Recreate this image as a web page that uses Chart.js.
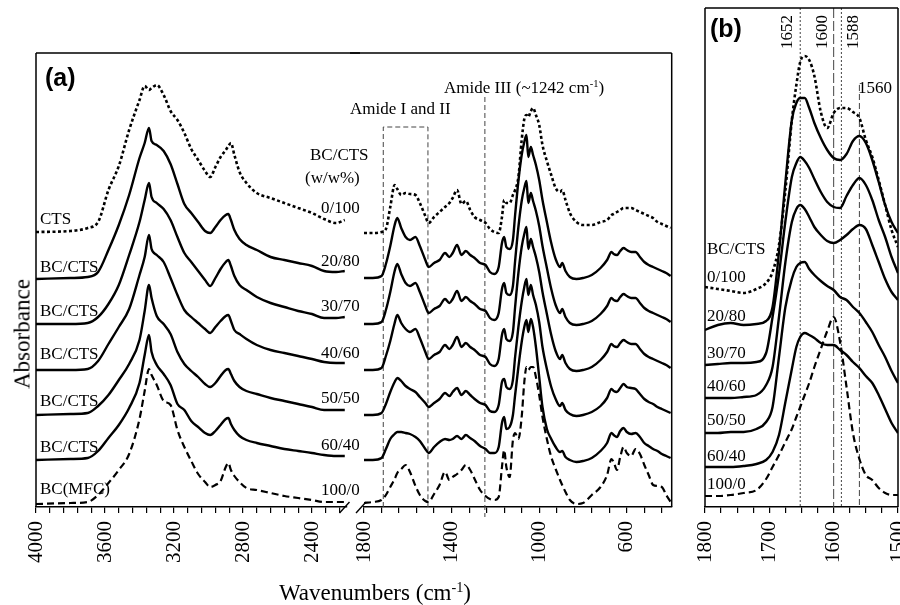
<!DOCTYPE html>
<html>
<head>
<meta charset="utf-8">
<script src="https://cdn.jsdelivr.net/npm/chart.js@4.4.0/dist/chart.umd.min.js"></script>
<style>
body { margin: 0; background: #fff; }
#wrap { position: relative; width: 900px; height: 605px; overflow: hidden; background: #fff;
        font-family: "Liberation Serif", "Times New Roman", serif; color: #000; }
#wrap canvas { position: absolute; top: 0; }
.lbl { position: absolute; white-space: nowrap; font-size: 17px; line-height: 1; }
sup { font-size: 0.62em; vertical-align: 0.55em; line-height: 0; }
</style>
</head>
<body>
<div id="wrap">
  <canvas id="cLeft"></canvas>
  <canvas id="cRight"></canvas>
  <canvas id="cB"></canvas>
</div>
<script>
// ---- panel (a), high wavenumber part (cm-1) ----
var leftWn = [4000, 3800, 3700, 3640, 3580, 3520, 3460, 3400, 3370, 3345, 3330, 3300, 3260, 3220, 3180, 3140, 3100, 3060,
              3020, 2990, 2960, 2930, 2900, 2885, 2870, 2850, 2820, 2780, 2720, 2640, 2560, 2480, 2400, 2330, 2260, 2210];
var ctsL   = [275,276,279,285,317,341,377,407,421,417,419,422,412,396,387,374,358,347,336,330,340,350,357,361,364,352,335,324,314,309,304,299,294,288,284,287];
var r2080L = [228,229,230,235,257,282,312,349,364,379,366,362,356,343,323,303,294,285,276,274,280,287,292,293,287,277,268,262,257,250,247,244,241,236,235,236];
var r3070L = [183,183,184,190,203,222,252,285,307,324,310,304,298,287,270,254,245,236,227,221,229,238,245,247,241,231,222,217,210,204,200,196,193,189,189,190];
var r4060L = [137,137,138,146,163,180,198,232,250,272,258,252,245,229,212,197,190,184,178,174,180,186,191,192,186,177,173,168,162,157,154,151,148,145,144,144];
var r5050L = [92,93,94,101,112,127,143,167,196,222,209,191,183,173,155,143,136,130,123,120,124,131,137,138,133,126,120,116,113,109,106,103,100,97,97,97];
var r6040L = [47,48,49,56,69,82,99,124,152,172,155,142,133,122,103,97,86,80,74,72,76,82,88,89,83,77,71,67,64,61,58,56,54,52,51,51];
var mfcL   = [3,4,5,12,24,37,53,88,116,138,132,122,106,102,77,60,46,33,25,20,22,26,40,44,37,31,25,19,17,14,11,9,7,5,5,5];

// ---- panel (a), fingerprint part (cm-1) ----
var rightWn = [1800,1760,1720,1700,1680,1660,1648,1630,1610,1590,1565,1545,1520,1505,1480,1455,1430,1410,1395,1375,
               1355,1335,1315,1295,1270,1245,1225,1205,1185,1170,1160,1150,1135,1120,1110,1095,1080,1068,1058,1050,
               1038,1028,1015,1000,985,965,945,925,905,895,880,860,830,800,760,720,690,670,660,645,
               630,615,600,580,560,540,520,500,480,460,440,420,400];
var ctsR = [274,274,275,278,300, 322,318,312,314,313, 312,304,291,284,290, 295,300,304,309,317,
            303,306,297,290,287, 284,278,275,274,290, 307,304,304,312,317, 330,367,388,392,390,
            396,399,392,382,362, 346,332,319,315,317, 307,294,285,282,282, 285,287,292,293,295,
            297,299,299,299,297, 295,293,291,289,285, 283,281,279];
var r2080R = [229,229,231,243,261, 282,289,279,270,267, 270,261,247,240,244, 247,254,250,254,262,
              252,256,252,249,244, 242,235,233,240,264, 270,260,258,267,292, 326,352,365,372,350,
              360,352,342,327,307, 285,264,248,240,244, 236,230,228,229,232, 239,247,255,253,252,
              256,259,257,255,255, 250,245,242,240,238, 236,234,231];
var r3070R = [183,183,185,197,215, 236,243,233,224,221, 224,215,201,194,198, 201,208,204,208,216,
              206,210,206,203,198, 196,189,187,194,218, 224,214,212,221,246, 280,306,319,326,304,
              314,306,296,281,261, 239,218,202,194,198, 190,184,182,183,186, 193,201,209,207,206,
              210,213,211,209,209, 204,199,196,194,192, 190,188,185];
var r4060R = [137,137,139,151,166, 184,192,184,178,175, 178,169,155,148,152, 155,162,158,162,170,
              160,164,160,157,152, 150,143,141,148,172, 178,168,166,175,200, 234,260,273,280,258,
              268,260,250,235,215, 193,172,156,148,152, 144,138,136,137,140, 147,155,163,161,160,
              164,167,165,163,163, 158,153,150,148,146, 144,142,139];
var r5050R = [92,92,94,103,115, 125,129,126,121,118, 115,110,104,100,104, 108,114,111,115,119,
              112,116,112,108,104, 102,96,95,102,125, 128,120,118,127,150, 180,205,220,228,212,
              222,212,202,185,160, 138,120,108,101,104, 97,93,91,92,95, 101,109,118,116,115,
              119,123,120,119,118, 113,108,105,103,100, 98,96,94];
var r6040R = [47,47,49,58,68, 73,75,75,74,73, 70,66,58,54,60, 65,68,67,68,71,
              68,72,69,66,61, 58,54,54,60,84, 90,78,80,92,112, 140,165,180,187,175,
              188,180,160,130,100, 78,68,60,55,56, 50,47,45,46,49, 56,64,74,72,70,
              76,79,75,73,74, 70,64,61,58,56, 53,51,49];
var mfcR = [4,5,7,12,20, 28,34,38,42,35, 21,12,6,5,13, 22,35,27,30,33,
            37,42,37,28,17, 11,8,7,10,40, 57,40,30,67,74, 68,90,125,140,137,
            140,140,130,112,90, 68,50,38,27,22, 15,7,3,4,12, 20,32,48,45,37,
            50,60,54,51,58, 53,42,32,22,21, 20,12,5];

// ---- panel (b), amide region (cm-1) ----
var bWn = [1800,1780,1760,1740,1720,1705,1695,1685,1675,1665,1658,1652,1645,1638,1630,1620,1610,1600,1590,1580,1570,1560,1550,1540,1530,1520,1510,1500];
var ctsB   = [220,218,216,214,218,224,235,262,317,387,422,445,451,447,431,395,379,394,399,399,395,389,367,350,327,302,277,260];
var r2080B = [177,182,184,182,183,186,200,255,325,387,404,409,409,399,384,369,357,349,347,353,366,371,364,347,325,302,285,274];
var r3070B = [142,143,144,144,145,154,190,233,286,330,344,350,346,339,328,315,305,300,299,311,322,329,322,307,287,270,250,234];
var r4060B = [109,109,109,110,112,122,140,190,245,285,298,302,298,290,280,272,266,264,267,272,278,282,278,262,245,228,215,207];
var r5050B = [74,74,75,75,78,85,100,150,200,228,240,244,245,238,232,226,221,217,210,207,200,194,185,175,162,150,136,124];
var r6040B = [40,40,40,41,43,47,55,72,105,138,160,170,174,172,169,164,162,162,157,152,145,139,131,124,112,98,84,74];
var mfcB   = [11,11,12,14,17,28,40,52,65,78,90,100,112,124,140,158,176,190,165,120,74,48,32,27,19,14,12,12];

// tick labels
var leftTickLabels = [4000, 3600, 3200, 2800, 2400];
var rightTickLabels = [1800, 1400, 1000, 600];
var bTickLabels = [1800, 1700, 1600, 1500];

var seriesNames = ['CTS', 'BC/CTS', 'BC/CTS', 'BC/CTS', 'BC/CTS', 'BC/CTS', 'BC(MFC)'];
var ratios = ['0/100', '20/80', '30/70', '40/60', '50/50', '60/40', '100/0'];
var lineKinds = ['dotted', 'solid', 'solid', 'solid', 'solid', 'solid', 'dashed'];

var lineStyle = {
    dotted: { borderDash: [3, 2.5], borderWidth: 2.6 },
    solid: { borderDash: [], borderWidth: 2.4 },
    dashed: { borderDash: [7, 4], borderWidth: 2.2 }
};

function makeSets(wn, list) {
    return list.map(function (vals, k) {
        return Object.assign({
            label: ratios[k],
            data: wn.map(function (w, i) { return { x: w, y: vals[i] }; }),
            borderColor: '#000',
            pointRadius: 0,
            fill: false,
            cubicInterpolationMode: 'monotone'
        }, lineStyle[lineKinds[k]]);
    });
}

function tickRange(from, to, step) {
    var out = [];
    for (var v = from; v >= to; v -= step) out.push(v);
    return out;
}

// frame + axis break marks
var framePlugin = {
    id: 'frame',
    afterDraw: function (chart, args, o) {
        var ctx = chart.ctx, a = chart.chartArea;
        ctx.save();
        ctx.strokeStyle = '#000';
        ctx.lineWidth = 1.5;
        ctx.setLineDash([]);
        ctx.beginPath();
        if (o.left) { ctx.moveTo(a.left, a.top); ctx.lineTo(a.left, a.bottom); }
        if (o.right) { ctx.moveTo(a.right, a.top); ctx.lineTo(a.right, a.bottom); }
        if (o.top) {
            ctx.moveTo(o.topFrom !== undefined ? o.topFrom : a.left, a.top);
            ctx.lineTo(o.topTo !== undefined ? o.topTo : a.right, a.top);
        }
        ctx.stroke();
        if (o.breakAt) {
            var bx = o.breakAt === 'right' ? a.right - 2 : a.left - 3;
            ctx.lineWidth = 1.4;
            ctx.beginPath();
            ctx.moveTo(bx - 5, a.bottom + 6);
            ctx.lineTo(bx + 5, a.bottom - 5);
            ctx.stroke();
        }
        ctx.restore();
    }
};

// reference lines and boxes, placed in data units
var markPlugin = {
    id: 'marks',
    beforeDatasetsDraw: function (chart, args, o) {
        if (!o.lines) return;
        var ctx = chart.ctx, a = chart.chartArea;
        var xs = chart.scales.x, ys = chart.scales.y;
        ctx.save();
        ctx.strokeStyle = '#444';
        ctx.lineWidth = 1;
        o.lines.forEach(function (ln) {
            ctx.setLineDash(ln.dash);
            ctx.beginPath();
            var top = ln.from !== undefined ? ys.getPixelForValue(ln.from) : a.top;
            var bot = a.bottom + (ln.extend || 0);
            if (ln.box) {
                var x1 = xs.getPixelForValue(ln.box[0]), x2 = xs.getPixelForValue(ln.box[1]);
                ctx.moveTo(x1, bot); ctx.lineTo(x1, top); ctx.lineTo(x2, top); ctx.lineTo(x2, bot);
            } else {
                var x = xs.getPixelForValue(ln.wn);
                ctx.moveTo(x, top); ctx.lineTo(x, bot);
            }
            ctx.stroke();
        });
        ctx.restore();
    }
};

function makeChart(id, box, cfg) {
    var cv = document.getElementById(id);
    cv.width = box.w;
    cv.height = 605;
    cv.style.left = box.x + 'px';
    return new Chart(cv.getContext('2d'), {
        type: 'line',
        data: { datasets: cfg.datasets },
        options: {
            responsive: false,
            animation: false,
            layout: { padding: { left: box.pl, right: box.pr, top: box.pt, bottom: 0 } },
            plugins: {
                legend: { display: false },
                tooltip: { enabled: false },
                frame: cfg.frame,
                marks: cfg.marks || {}
            },
            scales: {
                x: {
                    type: 'linear',
                    reverse: true,
                    min: cfg.min,
                    max: cfg.max,
                    afterBuildTicks: function (s) {
                        s.ticks = cfg.ticks.map(function (v) { return { value: v }; });
                    },
                    afterFit: function (s) { s.height = 98; s.paddingLeft = 0; s.paddingRight = 0; },
                    ticks: {
                        autoSkip: false, minRotation: 90, maxRotation: 90, padding: 8, color: '#000',
                        font: { family: 'Liberation Serif', size: 21 },
                        callback: function (v) { return cfg.labels.indexOf(v) >= 0 ? String(v) : ''; }
                    },
                    grid: { drawOnChartArea: false, drawTicks: true, tickLength: 6, color: '#000', lineWidth: 1.2 },
                    border: { display: true, color: '#000', width: 1.5 }
                },
                y: { display: false, min: 0, max: cfg.ymax }
            }
        },
        plugins: [framePlugin, markPlugin]
    });
}

makeChart('cLeft', { x: 0, w: 360, pl: 36, pr: 13.5, pt: 53 }, {
    datasets: makeSets(leftWn, [ctsL, r2080L, r3070L, r4060L, r5050L, r6040L, mfcL]),
    min: 2200, max: 4000, ymax: 454,
    ticks: tickRange(4000, 2200, 80), labels: leftTickLabels,
    frame: { left: true, top: true, topTo: 360, breakAt: 'right' }
});

makeChart('cRight', { x: 350, w: 335, pl: 14, pr: 13.3, pt: 53 }, {
    datasets: makeSets(rightWn, [ctsR, r2080R, r3070R, r4060R, r5050R, r6040R, mfcR]),
    min: 395, max: 1800, ymax: 454,
    ticks: tickRange(1800, 395, 80), labels: rightTickLabels,
    frame: { right: true, top: true, topFrom: 0, breakAt: 'left' },
    marks: {
        lines: [
            { box: [1712, 1508], from: 380, dash: [5, 3] },
            { wn: 1248, from: 410, extend: 10, dash: [5, 3] }
        ]
    }
});

makeChart('cB', { x: 690, w: 210, pl: 15, pr: 2, pt: 8 }, {
    datasets: makeSets(bWn, [ctsB, r2080B, r3070B, r4060B, r5050B, r6040B, mfcB]),
    min: 1500, max: 1800, ymax: 499,
    ticks: tickRange(1800, 1500, 25), labels: bTickLabels,
    frame: { left: true, right: true, top: true },
    marks: {
        lines: [
            { wn: 1652, dash: [2, 2] },
            { wn: 1600, dash: [10, 3] },
            { wn: 1588, dash: [2, 2] },
            { wn: 1560, from: 422, dash: [6, 3] }
        ]
    }
});

// ---- text ----
var wrap = document.getElementById('wrap');
function put(text, x, y, o) {
    o = o || {};
    var d = document.createElement('div');
    d.className = 'lbl';
    d.innerHTML = text;
    d.style.left = x + 'px';
    d.style.top = y + 'px';
    if (o.size) d.style.fontSize = o.size + 'px';
    if (o.font) d.style.fontFamily = o.font;
    if (o.bold) d.style.fontWeight = 'bold';
    var t = o.center ? 'translate(-50%,-50%)' : 'translate(0,-50%)';
    if (o.rot) t += ' rotate(' + o.rot + 'deg)';
    d.style.transform = t;
    wrap.appendChild(d);
}

var nameY = [218, 266, 310, 353, 400, 446, 488];
var ratioY = [207, 260, 305, 352, 397, 444, 489];
var ratioBY = [276, 315, 352, 385, 419, 455, 483];
seriesNames.forEach(function (n, i) { put(n, 40, nameY[i]); });
ratios.forEach(function (r, i) { put(r, 321, ratioY[i]); put(r, 707, ratioBY[i]); });

put('(a)', 45, 77, { size: 25, bold: true, font: '"Liberation Sans", Arial, sans-serif' });
put('(b)', 710, 28, { size: 25, bold: true, font: '"Liberation Sans", Arial, sans-serif' });
put('BC/CTS', 310, 154);
put('(w/w%)', 305, 177);
put('Amide I and II', 350, 108);
put('Amide III (~1242 cm<sup>-1</sup>)', 444, 87);
put('BC/CTS', 707, 248);
put('1652', 786, 32, { center: true, rot: -90 });
put('1600', 821, 32, { center: true, rot: -90 });
put('1588', 852, 32, { center: true, rot: -90 });
put('1560', 858, 87);
put('Absorbance', 22, 334, { center: true, rot: -90, size: 23 });
put('Wavenumbers (cm<sup>-1</sup>)', 375, 592, { center: true, size: 23 });
</script>
</body>
</html>
